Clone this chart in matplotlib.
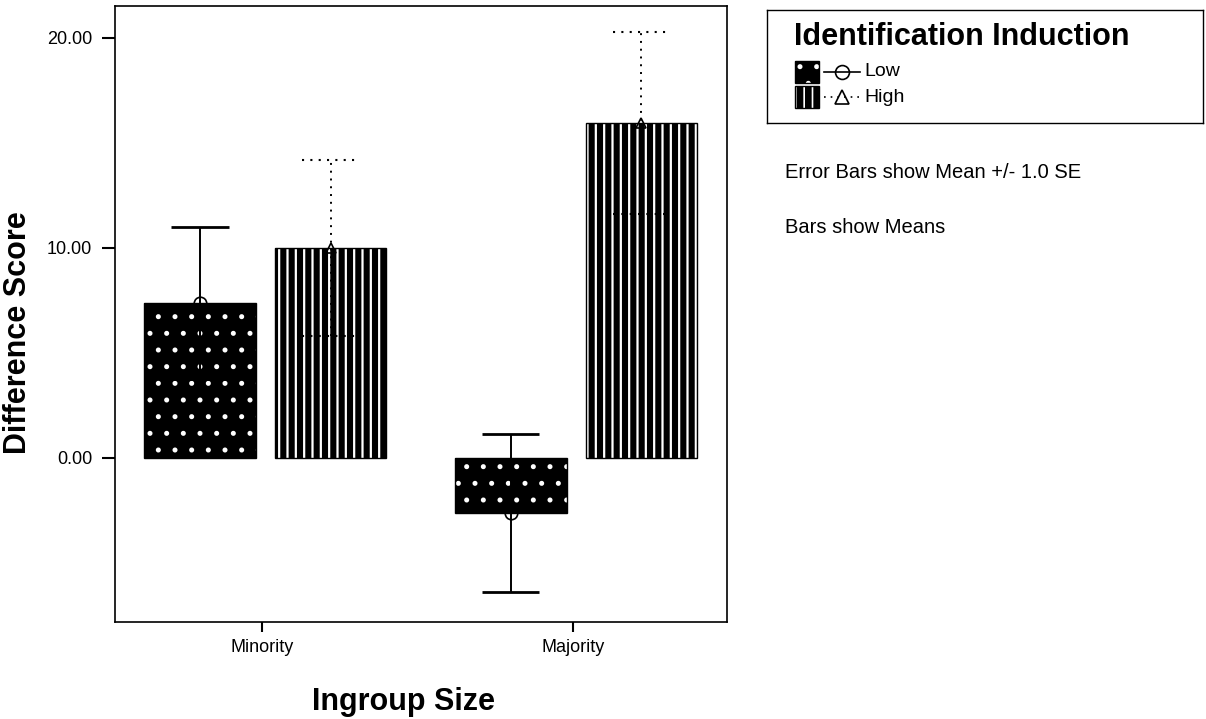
import matplotlib
matplotlib.use("Agg")
import matplotlib.pyplot as plt
from matplotlib.patches import Rectangle
import numpy as np

# bar chart of mean difference score by ingroup size and identification induction
CATEGORIES = ["Minority", "Majority"]
LOW_MEANS = [7.38, -2.62]
LOW_SE = [3.62, 3.74]
HIGH_MEANS = [10.02, 15.95]
HIGH_SE = [4.19, 4.31]
Y_TICKS = [0, 10, 20]

W, H = 1206, 719
DOTTED = (0, (1, 3))

plt.rcParams["font.family"] = ["Liberation Sans", "DejaVu Sans"]
plt.rcParams["hatch.linewidth"] = 1.2


def hatched_bar(ax, x, heights, width, hatch):
    bars = ax.bar(x, heights, width, color="black", edgecolor="white",
                  hatch=hatch, linewidth=0, zorder=2)
    ax.bar(x, heights, width, fill=False, edgecolor="black", linewidth=1.0, zorder=3)
    return bars


def error_bars(ax, x, means, ses, ls, cap_half, marker, ms):
    means = np.asarray(means)
    ses = np.asarray(ses)
    lo, hi = means - ses, means + ses
    ax.vlines(x, lo, hi, colors="black", linestyles=[ls], linewidth=1.4, zorder=4)
    cap_lw = 2.0 if ls == "solid" else 1.5
    for y in (lo, hi):
        ax.hlines(y, x - cap_half, x + cap_half, colors="black",
                  linestyles=[ls], linewidth=cap_lw, zorder=4)
    ax.plot(x, means, ls="none", marker=marker, ms=ms, mfc="none",
            mec="black", mew=1.2, zorder=5)


fig = plt.figure(figsize=(W / 100, H / 100), dpi=100)
ax = fig.add_axes([115 / W, 1 - 622 / H, 612 / W, 616 / H])

xpos = np.arange(len(CATEGORIES))
bw, cap_half = 0.36, 0.092

hatched_bar(ax, xpos - 0.2, LOW_MEANS, bw, ".")
with plt.rc_context({"hatch.linewidth": 1.6}):
    hatched_bar(ax, xpos + 0.22, HIGH_MEANS, bw, "||")

error_bars(ax, xpos - 0.2, LOW_MEANS, LOW_SE, "solid", cap_half, "o", 9)
error_bars(ax, xpos + 0.22, HIGH_MEANS, HIGH_SE, DOTTED, cap_half, "^", 7)

ax.set_xlim(-0.473, 1.495)
ax.set_ylim(-7.81, 21.52)
ax.set_xticks(xpos, CATEGORIES)
ax.set_yticks(Y_TICKS, [f"{v:.2f}" for v in Y_TICKS])
ax.tick_params(axis="y", length=9.5, width=1.5, pad=7, labelsize=13)
ax.tick_params(axis="x", length=7, width=1.5, pad=5, labelsize=13)
for sp in ax.spines.values():
    sp.set_linewidth(1.2)

ax.set_ylabel("Difference Score", fontsize=22, fontweight="bold")
ax.yaxis.set_label_coords(-0.134, 0.47)
ax.set_xlabel("Ingroup Size", fontsize=22, fontweight="bold")
ax.xaxis.set_label_coords(0.472, -0.106)

# legend box, laid out in pixel units
lg = fig.add_axes([767 / W, 1 - 123 / H, 436 / W, 113 / H])
lg.set_xlim(0, 436)
lg.set_ylim(113, 0)
lg.set_xticks([])
lg.set_yticks([])
for sp in lg.spines.values():
    sp.set_linewidth(1.0)
lg.text(27, 27, "Identification Induction", fontsize=22, fontweight="bold", va="center")

rows = [("Low", ".", "solid", "o", 62), ("High", "||", DOTTED, "^", 87)]
for label, hatch, ls, marker, yc in rows:
    lg.add_patch(Rectangle((28, yc - 11), 24, 22, facecolor="black",
                           edgecolor="white", hatch=hatch, linewidth=0))
    lg.add_patch(Rectangle((28, yc - 11), 24, 22, fill=False,
                           edgecolor="black", linewidth=1.0))
    lg.plot([57, 93], [yc, yc], color="black", ls=ls, lw=1.2)
    lg.plot([75], [yc], ls="none", marker=marker, ms=10, mfc="none",
            mec="black", mew=1.2)
    lg.text(97, yc, label, fontsize=14, va="center")

fig.text(785 / W, 1 - 172 / H, "Error Bars show Mean +/- 1.0 SE", fontsize=14.5, va="center")
fig.text(785 / W, 1 - 228 / H, "Bars show Means", fontsize=14.5, va="center")

fig.savefig("out.png", dpi=100)
